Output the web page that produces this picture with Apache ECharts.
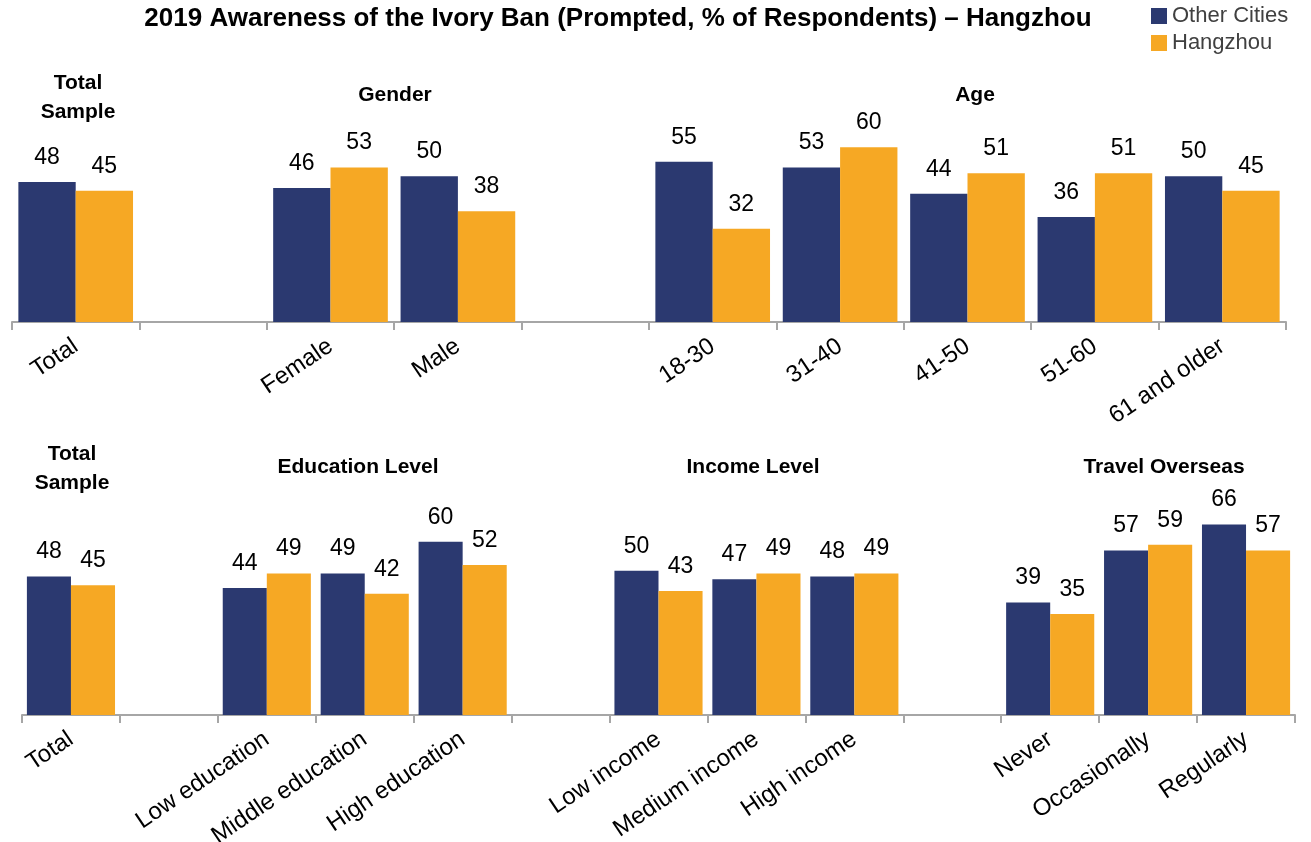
<!DOCTYPE html>
<html>
<head>
<meta charset="utf-8">
<title>Ivory Ban Awareness - Hangzhou</title>
<script src="https://cdn.jsdelivr.net/npm/echarts@6/dist/echarts.min.js"></script>
<style>
  html, body { margin: 0; padding: 0; background: #fff; }
  #chart { width: 1311px; height: 842px; }
</style>
</head>
<body>
<div id="chart"></div>
<script>
// top row: total / gender / age  ('' = spacer between groups)
var topCategories = ['Total', '', 'Female', 'Male', '', '18-30', '31-40', '41-50', '51-60', '61 and older']
var topOther = [48, '-', 46, 50, '-', 55, 53, 44, 36, 50]
var topHangzhou = [45, '-', 53, 38, '-', 32, 60, 51, 51, 45]

// bottom row: total / education / income / travel
var bottomCategories = ['Total', '', 'Low education', 'Middle education', 'High education', '',
  'Low income', 'Medium income', 'High income', '', 'Never', 'Occasionally', 'Regularly']
var bottomOther = [48, '-', 44, 49, 60, '-', 50, 47, 48, '-', 39, 57, 66]
var bottomHangzhou = [45, '-', 49, 42, 52, '-', 43, 49, 49, '-', 35, 59, 57]

var NAVY = '#2b3970'
var ORANGE = '#f6a824'
var narrow = "'Liberation Sans Narrow', 'Liberation Sans', sans-serif"
var sans = "'Liberation Sans', Arial, sans-serif"

function header (text, x, y) {
  return {
    type: 'text',
    x: x,
    y: y,
    style: {
      text: text,
      align: 'center',
      verticalAlign: 'middle',
      font: 'bold 21px ' + sans,
      lineHeight: 29,
      fill: '#000'
    }
  }
}

function xAxis (gridIndex, data) {
  return {
    type: 'category',
    gridIndex: gridIndex,
    data: data,
    axisLine: { lineStyle: { color: '#a6a6a6', width: 2 } },
    axisTick: { show: true, length: 8, lineStyle: { color: '#a6a6a6', width: 2 } },
    axisLabel: {
      interval: 0,
      rotate: 34,
      margin: 22,
      color: '#000',
      fontSize: 24,
      fontFamily: narrow
    }
  }
}

function yAxis (gridIndex) {
  return {
    type: 'value',
    gridIndex: gridIndex,
    min: 0,
    max: 70,
    show: false,
    splitLine: { show: false }
  }
}

function bars (name, color, idx, data) {
  return {
    name: name,
    type: 'bar',
    xAxisIndex: idx,
    yAxisIndex: idx,
    data: data,
    barGap: '0%',
    barCategoryGap: '10%',
    itemStyle: { color: color },
    label: {
      show: true,
      position: 'top',
      distance: 13,
      color: '#000',
      fontSize: 23,
      fontFamily: sans
    }
  }
}

var myChart = echarts.init(document.getElementById('chart'))
myChart.setOption({
  animation: false,
  legend: {
    orient: 'vertical',
    left: 1146,
    top: 0,
    icon: 'rect',
    itemWidth: 16,
    itemHeight: 16,
    itemGap: 5,
    textStyle: { fontSize: 22, color: '#404040', fontFamily: sans },
    data: ['Other Cities', 'Hangzhou']
  },
  grid: [
    { left: 12, right: 25, top: 118, height: 204, outerBoundsMode: 'none', containLabel: false },
    { left: 22, right: 16, top: 513, height: 202, outerBoundsMode: 'none', containLabel: false }
  ],
  xAxis: [xAxis(0, topCategories), xAxis(1, bottomCategories)],
  yAxis: [yAxis(0), yAxis(1)],
  series: [
    bars('Other Cities', NAVY, 0, topOther),
    bars('Hangzhou', ORANGE, 0, topHangzhou),
    bars('Other Cities', NAVY, 1, bottomOther),
    bars('Hangzhou', ORANGE, 1, bottomHangzhou)
  ],
  graphic: [
    {
      type: 'text',
      x: 618,
      y: 19,
      style: {
        text: '2019 Awareness of the Ivory Ban (Prompted, % of Respondents) \u2013 Hangzhou',
        align: 'center',
        verticalAlign: 'middle',
        font: 'bold 26px ' + sans,
        fill: '#000'
      }
    },
    header('Total\nSample', 78, 98),
    header('Gender', 395, 95),
    header('Age', 975, 95),
    header('Total\nSample', 72, 469),
    header('Education Level', 358, 467),
    header('Income Level', 753, 467),
    header('Travel Overseas', 1164, 467)
  ]
})
</script>
</body>
</html>
